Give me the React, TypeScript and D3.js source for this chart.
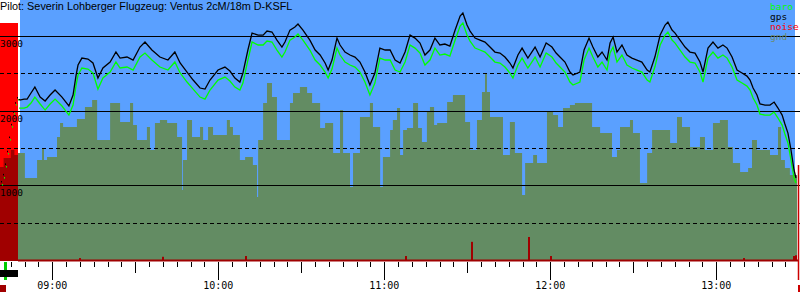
import React from "react";
import * as d3 from "d3";

const W = 800;
const H = 300;

const title = "Pilot: Severin Lohberger Flugzeug: Ventus 2cM/18m D-KSFL";
const legendNames = ["baro", "gps", "noise", "gnd"];
const legendColors = ["#00ff00", "#000000", "#ff0000", "#6b8a6b"];
const yLabelValues = [3000, 2000, 1000];
const gridSolid = [1000, 2000, 3000];
const gridDashed = [500, 1500, 2500];
const hourLabels = ["09:00", "10:00", "11:00", "12:00", "13:00"];
const hourMinutes = [540, 600, 660, 720, 780];

// time in minutes since midnight
const gpsTime = [528.0, 528.3, 529.8, 530.9, 532.3, 533.7, 535.6, 537.4, 539.2, 541.0, 543.5, 546.0, 547.5, 548.6, 549.3, 550.7, 552.9, 554.7, 556.5, 558.3, 560.9, 563.0, 564.5, 567.0, 569.2, 571.7, 573.5, 576.0, 578.9, 581.8, 584.3, 586.2, 588.7, 590.9, 593.4, 595.2, 597.0, 599.9, 602.4, 604.2, 606.0, 607.8, 608.9, 610.7, 612.2, 614.4, 616.2, 617.6, 619.4, 621.2, 623.0, 624.1, 625.9, 627.7, 628.8, 630.6, 633.1, 635.0, 636.8, 638.6, 639.7, 641.1, 642.9, 644.0, 645.8, 647.6, 649.4, 651.2, 653.0, 654.8, 656.6, 658.4, 660.3, 662.1, 663.9, 665.7, 667.5, 669.3, 671.1, 672.9, 674.7, 676.5, 678.3, 680.1, 681.9, 683.7, 685.6, 687.4, 688.4, 689.9, 691.0, 692.8, 694.6, 696.4, 698.2, 700.0, 701.8, 703.6, 705.4, 706.5, 708.3, 709.8, 711.9, 714.5, 716.3, 718.5, 720.6, 722.1, 723.5, 725.3, 727.1, 728.2, 730.7, 732.2, 734.0, 735.4, 737.2, 738.7, 740.5, 741.6, 742.7, 744.1, 745.9, 747.7, 749.5, 751.3, 753.1, 755.0, 756.0, 757.8, 759.7, 761.5, 762.5, 764.0, 765.1, 766.9, 768.7, 770.5, 772.3, 774.1, 775.2, 777.0, 778.8, 780.6, 782.4, 783.9, 785.7, 787.5, 789.3, 791.1, 792.2, 793.3, 794.7, 795.8, 797.6, 799.4, 800.9, 802.3, 803.8, 804.8, 805.9, 807.0, 808.1, 808.8];
const gpsAlt = [2162, 2149, 2162, 2162, 2243, 2323, 2189, 2136, 2216, 2283, 2189, 2069, 2216, 2484, 2618, 2711, 2698, 2645, 2444, 2578, 2658, 2792, 2711, 2725, 2685, 2859, 2926, 2819, 2725, 2685, 2792, 2645, 2524, 2417, 2310, 2296, 2417, 2551, 2591, 2537, 2444, 2390, 2511, 2819, 3046, 3019, 3019, 3073, 3060, 2952, 2859, 2926, 3086, 3127, 3167, 3086, 2952, 2819, 2752, 2645, 2551, 2685, 2979, 2886, 2792, 2752, 2725, 2658, 2524, 2350, 2511, 2845, 2819, 2819, 2685, 2645, 2792, 3019, 2979, 2912, 2752, 2819, 2979, 2886, 2899, 2872, 3086, 3274, 3314, 3153, 3073, 2979, 2952, 2926, 2859, 2792, 2778, 2725, 2645, 2578, 2752, 2845, 2711, 2859, 2725, 2912, 2859, 2778, 2725, 2658, 2524, 2484, 2524, 2819, 2979, 2859, 2725, 2792, 2685, 2912, 2993, 2792, 2886, 2752, 2711, 2685, 2658, 2551, 2524, 2725, 3019, 3153, 3193, 3086, 3046, 2952, 2859, 2792, 2778, 2658, 2524, 2845, 2926, 2845, 2886, 2845, 2725, 2551, 2511, 2470, 2417, 2310, 2216, 2096, 2082, 2082, 2122, 2042, 1948, 1828, 1707, 1480, 1212, 1105];
const baroAlt = [2042, 2042, 2042, 2055, 2109, 2189, 2096, 2015, 2096, 2162, 2069, 1948, 2082, 2350, 2484, 2578, 2564, 2511, 2296, 2444, 2524, 2658, 2578, 2591, 2551, 2725, 2778, 2685, 2591, 2551, 2658, 2511, 2390, 2296, 2189, 2162, 2283, 2417, 2457, 2404, 2323, 2283, 2377, 2685, 2926, 2886, 2886, 2939, 2926, 2819, 2725, 2792, 2952, 2993, 3033, 2952, 2819, 2685, 2618, 2524, 2444, 2564, 2845, 2752, 2658, 2618, 2591, 2524, 2390, 2216, 2377, 2711, 2685, 2685, 2551, 2524, 2658, 2886, 2845, 2778, 2618, 2685, 2845, 2752, 2765, 2738, 2952, 3140, 3180, 3020, 2939, 2845, 2819, 2792, 2725, 2658, 2645, 2591, 2511, 2444, 2618, 2711, 2578, 2725, 2591, 2778, 2725, 2645, 2591, 2524, 2390, 2350, 2390, 2685, 2845, 2725, 2591, 2658, 2551, 2778, 2859, 2658, 2752, 2618, 2578, 2551, 2524, 2417, 2390, 2591, 2886, 3020, 3060, 2952, 2912, 2819, 2725, 2658, 2645, 2524, 2390, 2711, 2792, 2711, 2752, 2711, 2591, 2417, 2377, 2336, 2283, 2176, 2082, 1961, 1948, 1948, 1988, 1908, 1814, 1694, 1574, 1346, 1105, 1038];

const gndTime = [527.6, 530.1, 534.5, 536.3, 537.0, 538.1, 541.7, 542.8, 543.9, 548.9, 551.8, 554.4, 556.2, 560.9, 564.5, 565.6, 568.1, 569.2, 570.6, 574.2, 575.3, 577.1, 578.9, 581.5, 585.1, 586.9, 587.2, 588.7, 590.5, 593.4, 594.5, 596.3, 598.1, 603.1, 604.2, 605.3, 607.8, 609.7, 612.5, 614.0, 614.4, 616.2, 617.6, 619.4, 621.2, 625.9, 627.0, 629.5, 632.1, 633.9, 636.8, 638.6, 641.5, 644.0, 645.1, 647.6, 648.7, 651.2, 654.8, 655.9, 658.5, 659.5, 662.1, 663.1, 664.6, 665.7, 666.8, 668.2, 670.4, 672.2, 673.6, 675.4, 676.5, 678.0, 679.1, 682.7, 684.8, 689.2, 691.0, 693.5, 695.3, 696.4, 697.1, 698.2, 702.9, 705.4, 707.2, 709.8, 710.9, 713.8, 715.2, 718.8, 721.0, 722.8, 724.6, 727.1, 728.9, 735.1, 738.0, 742.3, 744.1, 745.2, 748.8, 749.9, 752.4, 755.0, 756.8, 763.3, 765.8, 767.6, 770.5, 774.1, 775.9, 778.8, 781.3, 784.2, 786.0, 788.6, 791.5, 792.9, 794.7, 799.4, 802.3, 803.4, 804.8, 806.6, 809.2];
const gndAlt = [1439, 1105, 1346, 1506, 1346, 1386, 1654, 1841, 1788, 1895, 2055, 2149, 1613, 2109, 1855, 1855, 2109, 1814, 1613, 1788, 1480, 1841, 1881, 1841, 1654, 944, 1346, 1881, 1654, 1788, 1613, 1788, 1680, 1881, 1788, 1680, 1346, 1386, 1279, 850, 1613, 2109, 2377, 2189, 1613, 2109, 2243, 2323, 2243, 2109, 1774, 1841, 1439, 2015, 1439, 984, 1439, 1921, 2109, 1788, 984, 1386, 1747, 1881, 2042, 1413, 1747, 1774, 2109, 1774, 1587, 1988, 2055, 1814, 1841, 2122, 2216, 1855, 1480, 1881, 2256, 2511, 2256, 1921, 1413, 1855, 1439, 877, 1306, 1413, 1306, 1988, 1948, 1788, 2042, 2082, 2109, 1788, 1707, 1386, 1480, 1788, 1881, 1707, 1038, 1439, 1747, 1573, 1921, 1788, 1520, 1654, 1480, 1841, 1881, 1520, 1306, 1185, 1239, 1613, 1480, 1413, 1788, 1346, 1239, 1145, 1145];

const noiseTime = [549.6, 579.8, 609.7, 667.5, 691.3, 712.0, 719.9, 789.7, 807.7, 808.5];
const noiseLevel = [33, 50, 60, 60, 250, 315, 60, 33, 60, 70];

// compressed launch segment shown in the left strip
const towGps = [1065, 1160, 1300, 1470, 1660, 1830, 2000, 2120, 2190];
const towBaro = [1038, 1131, 1279, 1453, 1640, 1814, 1988, 2109, 2176];
const towGnd = [1252, 1373, 1373, 1480, 1413, 1480];

const SKY = "#5aa0ff";
const GROUND = "#638c63";
const DARKRED = "#a00000";
const MONO = "'DejaVu Sans Mono', monospace";

export default function App() {
  const x = d3.scaleLinear().domain([540, 780]).range([52.3, 716.3]);
  const y = d3.scaleLinear().domain([0, 3000]).range([260.5, 36.5]);

  const gps = gpsTime.map((t, i) => ({ t, a: gpsAlt[i] }));
  const baro = gpsTime.map((t, i) => ({ t, a: baroAlt[i] }));
  const gnd = gndTime.map((t, i) => ({ t, a: gndAlt[i] }));

  const line = d3
    .line<{ t: number; a: number }>()
    .x((d) => x(d.t))
    .y((d) => y(d.a));
  const area = d3
    .area<{ t: number; a: number }>()
    .x((d) => x(d.t))
    .y0(261)
    .y1((d) => y(d.a))
    .curve(d3.curveStepAfter);

  const towX = d3.scaleLinear().domain([0, towGps.length - 1]).range([1, 17]);
  const towGX = d3.scaleLinear().domain([0, towGnd.length - 1]).range([0, 18]);
  const towArea = d3
    .area<number>()
    .x((_, i) => towGX(i))
    .y0(261)
    .y1((d) => y(d))
    .curve(d3.curveStepAfter);

  const ticks = d3.range(525, 806, 5);

  const gridY = (v: number) => Math.floor(y(v)) + 0.5;

  return (
    <svg width={W} height={H} style={{ display: "block", position: "absolute", left: 0, top: 0 }}>
      <rect x={0} y={0} width={W} height={H} fill="#ffffff" />
      <rect x={20} y={0} width={775} height={261} fill={SKY} />
      {/* left launch strip */}
      <rect x={0} y={23} width={18} height={238} fill="#ff0000" />
      <path d={towArea(towGnd) || ""} fill={DARKRED} />
      {/* ground */}
      <path d={area(gnd) || ""} fill={GROUND} />
      {/* grid */}
      {gridSolid.map((v) => (
        <line key={"s" + v} x1={0} x2={W} y1={gridY(v)} y2={gridY(v)} stroke="#000" strokeWidth={1} />
      ))}
      {gridDashed.map((v) => (
        <line key={"d" + v} x1={0} x2={W} y1={gridY(v)} y2={gridY(v)} stroke="#000" strokeWidth={1} strokeDasharray="4,3" />
      ))}
      {yLabelValues.map((v) => (
        <text key={"yl" + v} x={0} y={gridY(v) + 10} fontFamily={MONO} fontSize={9.5} fill="#000">
          {v}
        </text>
      ))}
      {/* noise */}
      <line x1={18} x2={798} y1={260.5} y2={260.5} stroke={DARKRED} strokeWidth={2} />
      {noiseTime.map((t, i) => (
        <rect key={"n" + i} x={Math.round(x(t))} y={y(noiseLevel[i])} width={2} height={261 - y(noiseLevel[i])} fill={DARKRED} />
      ))}
      {/* tow dots */}
      {towGps.map((v, i) => (
        <rect key={"tg" + i} x={towX(i)} y={y(v)} width={1} height={1.5} fill="#000" />
      ))}
      {towBaro.map((v, i) => (
        <rect key={"tb" + i} x={towX(i) + 1} y={y(v) + 1} width={1} height={1.5} fill="#00ff00" />
      ))}
      {/* lines */}
      <path d={line(baro) || ""} fill="none" stroke="#00ff00" strokeWidth={1.3} />
      <path d={line(gps) || ""} fill="none" stroke="#000" strokeWidth={1.3} />
      {/* title */}
      <text x={0} y={10} fontFamily="'Liberation Sans', Arial, sans-serif" fontSize={10.85} fill="#000">
        {title}
      </text>
      {/* legend */}
      {legendNames.map((n, i) => (
        <text key={n} x={770} y={10 + i * 10} fontFamily={MONO} fontSize={9.5} fill={legendColors[i]}>
          {n}
        </text>
      ))}
      {/* x axis ticks */}
      {ticks.map((t) => {
        const xx = Math.round(x(t)) + 0.5;
        const len = t % 60 === 0 ? 18 : t % 30 === 0 ? 11 : 5;
        return <line key={"t" + t} x1={xx} x2={xx} y1={262} y2={262 + len} stroke="#000" strokeWidth={1} />;
      })}
      {hourLabels.map((l, i) => (
        <text key={l} x={x(hourMinutes[i])} y={289} textAnchor="middle" fontFamily={MONO} fontSize={10} fill="#000">
          {l}
        </text>
      ))}
      {/* indicators */}
      <rect x={4} y={262} width={3} height={18} fill="#00cc00" />
      <rect x={0} y={270} width={18} height={7} fill="#000" />
      <rect x={0} y={285} width={6} height={7} fill={DARKRED} />
      <line x1={798.5} x2={798.5} y1={165} y2={280} stroke="#cc0000" strokeWidth={1.5} />
      <rect x={798} y={285} width={2} height={7} fill="#cc0000" />
    </svg>
  );
}
